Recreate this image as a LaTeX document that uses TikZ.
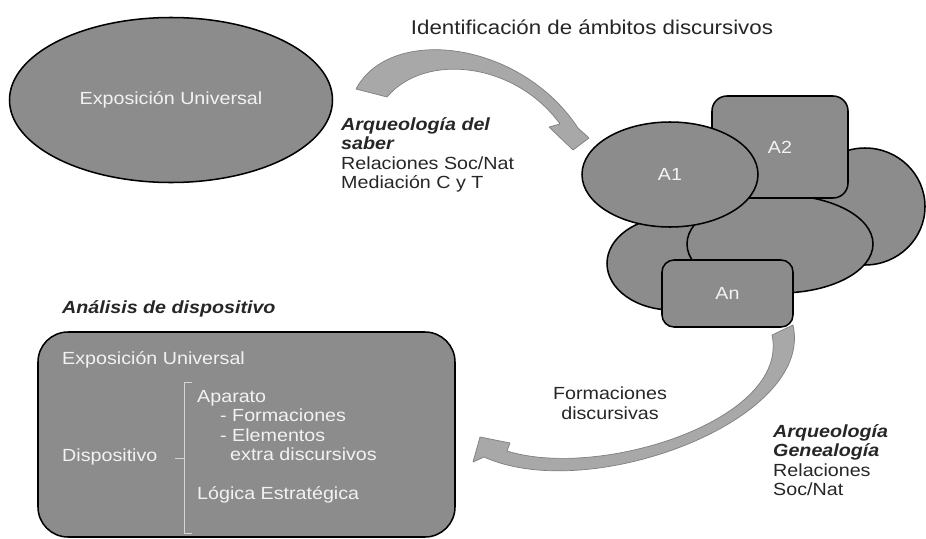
\documentclass[tikz,border=0pt]{standalone}
\usepackage{fontspec}
\setmainfont{Liberation Sans}[FakeStretch=1.12]
\usetikzlibrary{shapes.geometric}
\definecolor{blobgray}{HTML}{8C8C8C}
\definecolor{arrowgray}{HTML}{A8A8A8}
\definecolor{arrowline}{HTML}{7F7F7F}
\definecolor{paletext}{HTML}{F2F2F2}
\definecolor{bracketgray}{HTML}{D4D4D4}

\begin{document}
\begin{tikzpicture}[x=0.3mm,y=-0.3mm,
    blob/.style={draw=black,line width=1.3pt,fill=blobgray,text=paletext,font=\fontsize{15}{16.6}\selectfont},
    oval/.style={blob,ellipse,inner sep=0pt},
    tile/.style={blob,rectangle,rounded corners=4.5mm},
    bigarrow/.style={fill=arrowgray,draw=arrowline,line width=0.6pt,line join=round},
    note/.style={font=\fontsize{15}{16.6}\selectfont,align=left,inner sep=0pt,text=black!85}]
    \useasboundingbox (0,0) rectangle (926,538);

    % top: exposicion and the cluster of ambitos
    \node[oval,minimum width=96.9mm,minimum height=49.5mm] (expo) at (171,100) {Exposición Universal};
    \node[oval,minimum width=36mm,minimum height=35.1mm] (ovalRight) at (865,206.5) {};
    \node[oval,minimum width=39mm,minimum height=27.9mm] (ovalLow) at (672,263.5) {};
    \node[oval,minimum width=55.8mm,minimum height=29.4mm] (ovalMid) at (780,244) {};
    \node[tile,minimum width=40.8mm,minimum height=30.6mm] (aTwo) at (780,147) {A2};
    \node[oval,minimum width=52.8mm,minimum height=31.5mm] (aOne) at (670,174.5) {A1};
    \node[tile,minimum width=39.3mm,minimum height=20.1mm,rounded corners=3.6mm] (aN) at (727.5,293.5) {An};

    \node[note,font=\fontsize{17}{19}\selectfont] (title) at (592,27) {Identificación de ámbitos discursivos};
    \node[note,anchor=north west] (saber) at (341,117) {\textbf{\textit{Arqueología del}}\\\textbf{\textit{saber}}\\Relaciones Soc/Nat\\Mediación C y T};

    % curved block arrows
    \draw[bigarrow] (356,89) .. controls (390,25) and (520,40) .. (578,128) -- (589,138) -- (573,150)
        -- (549,127) -- (560,124) .. controls (515,62) and (425,52) .. (387,97) -- cycle;
    \draw[bigarrow] (793,325) .. controls (815,420) and (590,505) .. (484,457) -- (473,462) -- (480,437)
        -- (510,443) -- (507,451) .. controls (600,480) and (790,420) .. (772,335) -- cycle;

    \node[note,align=center] (formac) at (610,403) {Formaciones\\discursivas};
    \node[note,anchor=north west] (genea) at (773,424) {\textbf{\textit{Arqueología}}\\\textbf{\textit{Genealogía}}\\Relaciones\\Soc/Nat};

    % bottom: analisis de dispositivo
    \node[note,anchor=base west] (analisis) at (62,313) {\textbf{\textit{Análisis de dispositivo}}};
    \node[blob,rounded corners=9mm,minimum width=125.1mm,minimum height=61.5mm] (dispbox) at (246.5,434.5) {};
    \node[note,text=paletext,anchor=base west] (expoIn) at (62,364) {Exposición Universal};
    \node[note,text=paletext,anchor=base west] (dispo) at (62,461) {Dispositivo};
    \node[note,text=paletext,anchor=north west] (aparato) at (197,390) {Aparato\\
        \hspace*{6.9mm}- Formaciones\\
        \hspace*{6.9mm}- Elementos\\
        \hspace*{9.9mm}extra discursivos\\[5.86mm]
        Lógica Estratégica};
    \draw[bracketgray,line width=0.8pt] (192,382) -- (184,382) -- (184,533) -- (192,533);
    \draw[bracketgray,line width=0.8pt] (175,458) -- (184,458);
\end{tikzpicture}
\end{document}
